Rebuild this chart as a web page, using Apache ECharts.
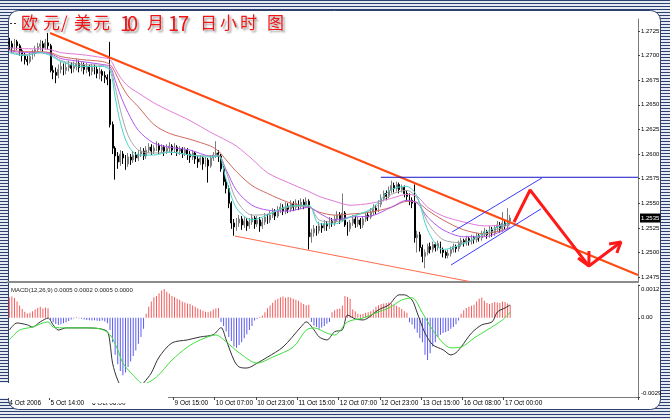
<!DOCTYPE html>
<html><head><meta charset="utf-8">
<script src="https://cdn.jsdelivr.net/npm/echarts@6/dist/echarts.min.js"></script>
<style>html,body{margin:0;padding:0;background:#fff}#c{width:670px;height:419px}</style>
</head><body><div id="c"></div>
<script>
// ---------- data ----------
const titleText = '欧元/美元10月17日小时图';
const timeLabels = ['4 Oct 2006','5 Oct 14:00','6 Oct 06:00','6 Oct 22:00','9 Oct 15:00','10 Oct 07:00','10 Oct 23:00','11 Oct 15:00','12 Oct 07:00','12 Oct 23:00','13 Oct 15:00','16 Oct 08:00','17 Oct 00:00'];
const barsPerLabel = 16;
const slotCount = 244;            // hourly slots shown (incl. empty chart shift)
const priceTicks = [1.2475,1.2500,1.2525,1.2550,1.2575,1.2600,1.2625,1.2650,1.2675,1.2700,1.2725];
const priceMin = 1.2470, priceMax = 1.27372;
const lastPrice = 1.2535;
const macdTicks = [0.0012, 0, -0.0029];
const macdMin = -0.0029, macdMax = 0.0012;
const macdTitle = 'MACD(12,26,9) 0.0005 0.0002 0.0005 0.0000';

// hourly candles, [open, close, low, high] in pips above 1.2000
const ohlcPips = [
[714,712,706,718],[712,708,703,715],[708,714,705,717],[714,710,706,716],[710,705,700,712],
[705,700,694,708],[700,696,691,703],[696,694,690,700],[694,699,692,703],[699,702,696,706],
[702,706,699,710],[706,709,703,713],[709,712,705,716],[712,708,704,715],[708,713,706,717],
[713,710,706,723],[710,685,683,712],[685,683,676,690],[683,680,672,688],[680,686,677,691],
[686,689,682,694],[689,685,680,692],[685,688,681,693],[688,690,684,695],[690,687,682,693],
[687,689,683,694],[689,692,685,697],[692,688,683,695],[688,690,684,694],[690,686,681,693],
[686,689,682,693],[689,684,679,691],[684,688,680,692],[688,686,681,691],[686,682,677,689],
[682,684,676,688],[684,680,674,686],[680,678,672,684],[678,676,670,681],[676,630,627,714],
[630,606,600,633],[606,598,574,608],[598,592,585,602],[592,600,588,604],[600,596,590,603],
[596,590,584,599],[590,597,587,601],[597,594,589,600],[594,599,591,603],[599,596,592,602],
[596,600,593,604],[600,603,597,607],[603,598,594,606],[598,604,595,608],[604,607,601,611],
[607,603,599,610],[603,606,600,609],[606,609,603,613],[609,604,600,611],[604,607,601,610],
[607,603,598,609],[603,606,600,610],[606,608,602,612],[608,604,599,610],[604,607,601,611],
[607,603,598,609],[603,605,599,608],[605,601,596,607],[601,604,598,607],[604,600,594,606],
[600,597,591,603],[597,601,594,604],[601,595,590,603],[595,592,586,598],[592,596,589,599],
[596,590,584,598],[590,594,587,597],[594,588,571,596],[588,596,586,599],[596,599,593,602],
[599,601,596,613],[601,598,592,604],[598,585,582,600],[585,572,568,588],[572,565,560,576],
[565,550,545,568],[550,530,524,552],[530,526,517,534],[526,530,522,535],[530,534,526,538],
[534,528,523,537],[528,532,525,536],[532,527,522,535],[527,531,524,535],[531,535,528,539],
[535,529,524,537],[529,533,526,537],[533,527,521,536],[527,531,524,535],[531,536,528,540],
[536,533,529,539],[533,538,530,542],[538,541,535,545],[541,537,533,544],[537,543,535,547],
[543,546,540,550],[546,542,538,549],[542,547,539,551],[547,544,540,550],[544,549,541,553],
[549,546,542,552],[546,550,543,554],[550,547,543,553],[547,551,544,555],[551,548,544,554],
[548,552,545,556],[552,516,503,554],[516,520,510,524],[520,524,516,528],[524,522,517,527],
[522,527,519,531],[527,525,520,530],[525,529,522,533],[529,527,522,532],[527,532,524,536],
[532,530,526,535],[530,534,527,538],[534,538,531,542],[538,533,529,541],[533,540,531,560],
[540,528,526,542],[528,524,517,531],[524,530,521,533],[530,534,527,538],[534,529,525,537],
[529,533,526,536],[533,528,524,535],[528,534,525,537],[534,538,531,541],[538,536,532,541],
[536,541,534,545],[541,545,538,549],[545,543,539,548],[543,549,541,553],[549,555,546,559],
[555,560,552,563],[560,557,553,563],[557,563,555,567],[563,568,560,573],[568,565,561,571],
[565,569,562,572],[569,564,560,571],[564,566,561,569],[566,560,556,568],[560,557,552,563],
[557,553,548,560],[553,550,545,556],[550,515,510,569],[515,518,500,522],[518,505,501,521],
[505,496,490,508],[496,500,484,503],[500,506,497,509],[506,503,499,510],[503,508,500,511],
[508,505,501,510],[505,509,502,512],[509,503,499,511],[503,500,495,505],[500,497,494,502],
[497,499,494,503],[499,503,496,506],[503,506,500,509],[506,504,500,508],[504,509,501,512],
[509,512,506,515],[512,510,506,514],[510,514,507,517],[514,511,507,516],[511,515,508,518],
[515,513,509,517],[513,517,510,520],[517,515,511,519],[515,519,512,522],[519,521,516,525],
[521,518,514,523],[518,523,515,527],[523,520,516,526],[520,525,517,528],[525,528,522,532],
[528,524,520,531],[524,530,521,541],[530,527,523,534],[527,532,524,545],[532,535,528,538]
];

// moving averages read at sample bars (pips above 1.2000)
const maBars   = [0,6,12,16,20,28,36,39,41,43,46,50,56,62,70,78,81,84,88,94,100,108,116,120,126,132,140,148,154,158,162,168,176,184,194];
const maPink   = [708,707,707,706,703,701,698,696,687,678,669,662,652,644,634,622,618,614,608,595,581,571,562,557,552,548,550,555,559,557,546,537,531,527,528];
const maBrown  = [706,704,704,703,699,696,694,691,683,672,659,648,630,621,615,608,603,594,582,568,560,551,546,541,538,539,541,546,552,551,543,533,523,519,525];
const maPurple = [705,703,703,702,697,694,691,689,675,660,642,624,611,607,604,598,598,584,563,548,543,542,546,540,533,536,537,546,553,550,536,523,516,516,526];
const maGray   = [704,701,703,701,695,691,690,687,668,645,619,604,601,602,599,598,599,582,553,538,539,546,547,533,531,536,543,559,563,555,531,513,510,518,529];
const maCyan   = [703,700,703,700,694,689,689,685,658,632,609,599,599,602,599,597,598,574,545,533,538,547,548,529,529,536,544,564,567,557,523,503,509,520,531];

// MACD (units of 0.0001)
const histo = [7.5,7.8,7.2,6.0,4.5,3.2,2.2,1.6,1.8,2.4,
3.0,3.6,4.0,3.4,3.8,3.5,-0.8,-1.6,-2.3,-2.6,
-2.4,-2.0,-1.6,-1.2,-0.6,-0.3,0.3,-0.2,-0.4,-0.6,
-0.8,-0.9,-1.0,-0.9,-1.1,-1.2,-1.0,-1.4,-2.0,-4.5,
-9.0,-13.5,-17.0,-19.5,-21.0,-20.0,-18.0,-16.0,-14.0,-12.0,
-9.5,-7.0,-4.0,1.5,4.0,6.0,7.5,8.0,9.0,10.0,
10.5,9.5,8.8,8.0,7.6,7.0,6.6,6.0,5.6,5.2,
5.0,4.5,4.0,3.5,3.0,2.6,2.2,2.0,2.4,3.0,
3.4,3.6,-1.5,-3.0,-5.0,-7.0,-8.5,-10.5,-11.0,-10.0,
-9.0,-7.5,-6.0,-4.5,-3.0,-1.0,-0.4,0.3,0.8,2.0,
3.5,4.5,5.5,6.5,7.0,7.5,7.8,7.3,7.6,7.4,
7.0,6.6,6.2,5.6,5.0,4.6,4.8,-1.5,-2.8,-3.4,
-4.0,-3.6,-3.0,-2.2,-1.5,2.0,2.8,3.2,3.4,4.5,
8.0,7.6,7.0,3.0,2.4,1.5,1.2,1.4,1.8,2.0,
2.4,3.0,4.0,4.6,5.0,5.2,5.4,5.6,5.2,4.8,
4.4,3.9,3.2,2.4,1.8,-1.6,-2.5,-4.0,-5.5,-7.5,
-9.0,-13.5,-15.5,-13.0,-10.5,-9.0,-7.0,-6.2,-5.6,-5.2,
-4.8,-4.0,-3.4,-2.4,-1.0,1.5,2.8,3.6,4.0,4.4,
4.8,6.0,7.0,7.4,6.2,5.4,5.0,5.4,5.8,5.6,
5.4,6.0,5.8,5.2,4.6];
const macdBars = [0,3,7,9,12,15,17,19,22,29,35,38,39,40,42,45,49,52,55,58,63,69,74,79,82,84,87,89,92,96,100,106,113,115,118,120,123,126,129,131,134,137,139,143,147,151,153,156,158,161,164,168,171,173,175,179,183,187,189,192,194];
const macdVals = [-4.5,-1.9,-2.6,-3.4,-1.5,-0.1,-2.6,-4.5,-3.7,-3.7,-4.0,-5.1,-9.2,-16.6,-22.8,-27.2,-27.2,-23.9,-20.2,-14.4,-9.2,-8.1,-7.0,-6.2,-3.6,-8.1,-15.5,-18.0,-18.4,-16.6,-14.4,-10.7,-3.3,-1.5,-4.4,-7.0,-8.1,-5.1,-4.4,1.0,-0.4,-0.8,0,2.9,4.7,8.4,8.4,6.5,1.8,-5.6,-9.9,-11.7,-13.6,-12.8,-10.7,-5.6,-2.6,-1.5,2.1,3.6,4.7];
const signalBars = [0,4,9,15,17,22,29,35,39,42,44,48,52,57,63,69,74,80,84,89,96,102,110,115,118,123,126,131,137,142,147,152,156,160,164,168,171,175,180,185,191,194];
const signalVals = [-8.1,-4.5,-3.4,-1.5,-3.4,-3.7,-3.7,-4.0,-6.2,-11.7,-16.6,-21.0,-24.2,-21.7,-15.5,-10.7,-8.1,-6.3,-8.8,-12.8,-16.6,-14.4,-10.7,-4.5,-3.7,-5.6,-6.3,-1.5,-0.1,1.8,3.6,6.5,7.3,1.8,-4.5,-9.2,-11.0,-10.7,-7.4,-4.5,-0.8,2.1];

// drawn lines: [bar index, price]
const resistanceLine = [[15.8,1.2723],[243.5,1.24771]];
const supportLine    = [[87.4,1.25167],[178.4,1.24704]];
const highLine       = [[143.9,1.25764],[243.5,1.25764]];
const channelUpper   = [[171.5,1.25208],[206.3,1.25757]];
const channelLower   = [[171.1,1.24873],[205.9,1.25442]];
const forecastPath   = [[195.5,1.2531],[201.7,1.25635],[224.5,1.24862],[236.9,1.25106]];
const arrowHead1     = [[224.5,1.25015],[224.5,1.24862],[220.3,1.24943]];
const arrowHead2     = [[232.3,1.25086],[236.9,1.25106],[235.3,1.24994]];

// ---------- build ----------
const toPrice = p => 1.2 + p / 10000;
const candles = ohlcPips.map(r => r.map(toPrice));
const cats = Array.from({length: slotCount}, (_, i) => String(i));
const maSeries = (vals, color) => ({
  type: 'line', xAxisIndex: 0, yAxisIndex: 0, symbol: 'none', smooth: 0.3,
  data: maBars.map((b, i) => [b, toPrice(vals[i])]),
  lineStyle: {color, width: 1}, z: 3, silent: true
});
const drawLine = (pts, color, width, z) => ({
  type: 'line', xAxisIndex: 1, yAxisIndex: 0, symbol: 'none', data: pts,
  lineStyle: {color, width}, z: z || 4, silent: true
});
const labelAt = idx => idx % barsPerLabel === 0 && idx / barsPerLabel < timeLabels.length;

// striped frame pattern
const pc = document.createElement('canvas'); pc.width = 4; pc.height = 3;
const g2 = pc.getContext('2d');
g2.fillStyle = '#e6eaf2'; g2.fillRect(0, 0, 4, 3);
g2.fillStyle = '#2e4070'; g2.fillRect(0, 0, 4, 1);

const titleChars = Array.from(titleText);
const titleWidths = [22,18,13,19,27,7,20,21,10,22,20,20,27,15];
const titleRich = {};
titleChars.forEach((c, i) => {
  const digit = /[0-9]/.test(c);
  titleRich['c' + i] = {width: titleWidths[i], fontSize: digit ? 20 : 17, fontFamily: 'Noto Sans CJK SC', fill: '#f01414',
    textShadowColor: 'rgba(80,80,80,0.55)', textShadowBlur: 2, textShadowOffsetX: 2, textShadowOffsetY: 2};
});

const chart = echarts.init(document.getElementById('c'), null, {renderer: 'canvas'});
chart.setOption({
  animation: false,
  backgroundColor: '#fff',
  textStyle: {fontFamily: 'Liberation Sans'},
  graphic: [
    {type: 'rect', shape: {x: 0, y: 0, width: 670, height: 419}, style: {fill: {image: pc, repeat: 'repeat'}}, z: -20, silent: true},
    {type: 'rect', shape: {x: 8.5, y: 10.5, width: 652, height: 399, r: 10}, style: {fill: '#fff', stroke: '#2e4070', lineWidth: 1}, z: -19, silent: true},
    {type: 'line', shape: {x1: 10, y1: 23.5, x2: 18, y2: 23.5}, style: {stroke: '#333', lineWidth: 1, lineDash: [2, 2]}, z: 60, silent: true},
    {type: 'text', left: 21, top: 13, z: 60, silent: true,
      style: {text: titleChars.map((c, i) => '{c' + i + '|' + c + '}').join(''), rich: titleRich, fill: '#f01414', fontSize: 18}},
    {type: 'text', left: 11, top: 287, z: 60, silent: true,
      style: {text: macdTitle, fill: '#222', fontSize: 6, fontFamily: 'Liberation Sans'}},
    {type: 'rect', shape: {x: 0, y: 383, width: 168, height: 15}, style: {fill: '#fff'}, z: 50, silent: true},
    {type: 'rect', shape: {x: 88, y: 397, width: 80, height: 6}, style: {fill: '#fff'}, z: 50, silent: true},
    {type: 'rect', shape: {x: 126, y: 397, width: 42, height: 9}, style: {fill: '#fff'}, z: 50, silent: true}
  ],
  grid: [
    {left: 8, right: 32, top: 19, bottom: 137, containLabel: false, outerBoundsMode: 'none'},
    {left: 8, right: 32, top: 285, bottom: 22, containLabel: false, outerBoundsMode: 'none'}
  ],
  xAxis: [
    {gridIndex: 0, type: 'category', data: cats, boundaryGap: true,
      axisLine: {show: true, onZero: false, lineStyle: {color: '#8a8a8a', width: 2}}, axisTick: {show: false}, axisLabel: {show: false}, splitLine: {show: false}},
    {gridIndex: 0, type: 'value', min: -0.5, max: slotCount - 0.5, show: false, axisLine: {onZero: false}},
    {gridIndex: 1, type: 'category', data: cats, boundaryGap: true,
      axisLine: {show: true, onZero: false, lineStyle: {color: '#7a7a7a', width: 1}},
      axisTick: {show: true, interval: labelAt, length: 3, lineStyle: {color: '#444'}},
      axisLabel: {show: true, interval: labelAt, align: 'left', margin: 3, fontSize: 6.5, color: '#000', fontFamily: 'Liberation Sans',
        formatter: (v, idx) => labelAt(idx) ? timeLabels[idx / barsPerLabel] : ''},
      splitLine: {show: false}}
  ],
  yAxis: [
    {gridIndex: 0, type: 'value', position: 'right', min: priceMin, max: priceMax,
      axisLine: {show: true, onZero: false, lineStyle: {color: '#7a7a7a', width: 1}},
      axisTick: {show: true, length: 2, customValues: priceTicks, lineStyle: {color: '#444'}},
      axisLabel: {show: true, customValues: priceTicks, formatter: v => v.toFixed(4), fontSize: 6, color: '#000', margin: 3, fontFamily: 'Liberation Sans'},
      splitLine: {show: false}},
    {gridIndex: 0, type: 'value', position: 'right', min: priceMin, max: priceMax,
      axisLine: {show: false, onZero: false}, axisTick: {show: false}, splitLine: {show: false},
      axisLabel: {show: true, customValues: [lastPrice], formatter: v => v.toFixed(4), fontSize: 6, color: '#fff',
        backgroundColor: '#000', padding: [2, 1, 1, 1], margin: 2, fontFamily: 'Liberation Sans'}},
    {gridIndex: 1, type: 'value', position: 'right', min: macdMin, max: macdMax,
      axisLine: {show: true, onZero: false, lineStyle: {color: '#7a7a7a', width: 1}},
      axisTick: {show: true, length: 2, customValues: macdTicks, lineStyle: {color: '#444'}},
      axisLabel: {show: true, customValues: macdTicks, margin: 3, fontSize: 6, color: '#000', fontFamily: 'Liberation Sans',
        formatter: v => v > 1e-9 ? '{t|' + v.toFixed(4) + '}' : (v < -1e-9 ? '{b|' + v.toFixed(4) + '}' : '0.00'),
        rich: {t: {fontSize: 6, padding: [8, 0, 0, 0], color: '#000'}, b: {fontSize: 6, padding: [0, 0, 7, 0], color: '#000'}}},
      splitLine: {show: false}}
  ],
  series: [
    {type: 'candlestick', xAxisIndex: 0, yAxisIndex: 0, data: candles, barWidth: 1.4, z: 2, silent: true,
      itemStyle: {color: '#a8a8a8', color0: '#000', borderColor: '#7c7c7c', borderColor0: '#000', borderWidth: 1}},
    maSeries(maPink, '#e27ad8'),
    maSeries(maBrown, '#cf6a5c'),
    maSeries(maPurple, '#b257f2'),
    maSeries(maGray, '#a6a6a6'),
    maSeries(maCyan, '#46d6cc'),
    drawLine(resistanceLine, '#ff4a12', 2),
    drawLine(supportLine, '#ff6a4a', 1),
    drawLine(highLine, '#1414c8', 1),
    drawLine(channelUpper, '#3c3cff', 1),
    drawLine(channelLower, '#3c3cff', 1),
    drawLine(forecastPath, '#ff1a1a', 3, 5),
    drawLine(arrowHead1, '#ff1a1a', 3, 5),
    drawLine(arrowHead2, '#ff1a1a', 3, 5),
    {type: 'bar', xAxisIndex: 2, yAxisIndex: 2, barWidth: 1, silent: true,
      data: histo.map(v => ({value: v / 10000, itemStyle: {color: v >= 0 ? '#f25c5c' : '#5c5cf2'}}))},
    {type: 'line', xAxisIndex: 2, yAxisIndex: 2, symbol: 'none', smooth: 0.3, silent: true,
      data: macdBars.map((b, i) => [b, macdVals[i] / 10000]), lineStyle: {color: '#333', width: 1}},
    {type: 'line', xAxisIndex: 2, yAxisIndex: 2, symbol: 'none', smooth: 0.3, silent: true,
      data: signalBars.map((b, i) => [b, signalVals[i] / 10000]), lineStyle: {color: '#3ce03c', width: 1}}
  ]
});
</script>
</body></html>
